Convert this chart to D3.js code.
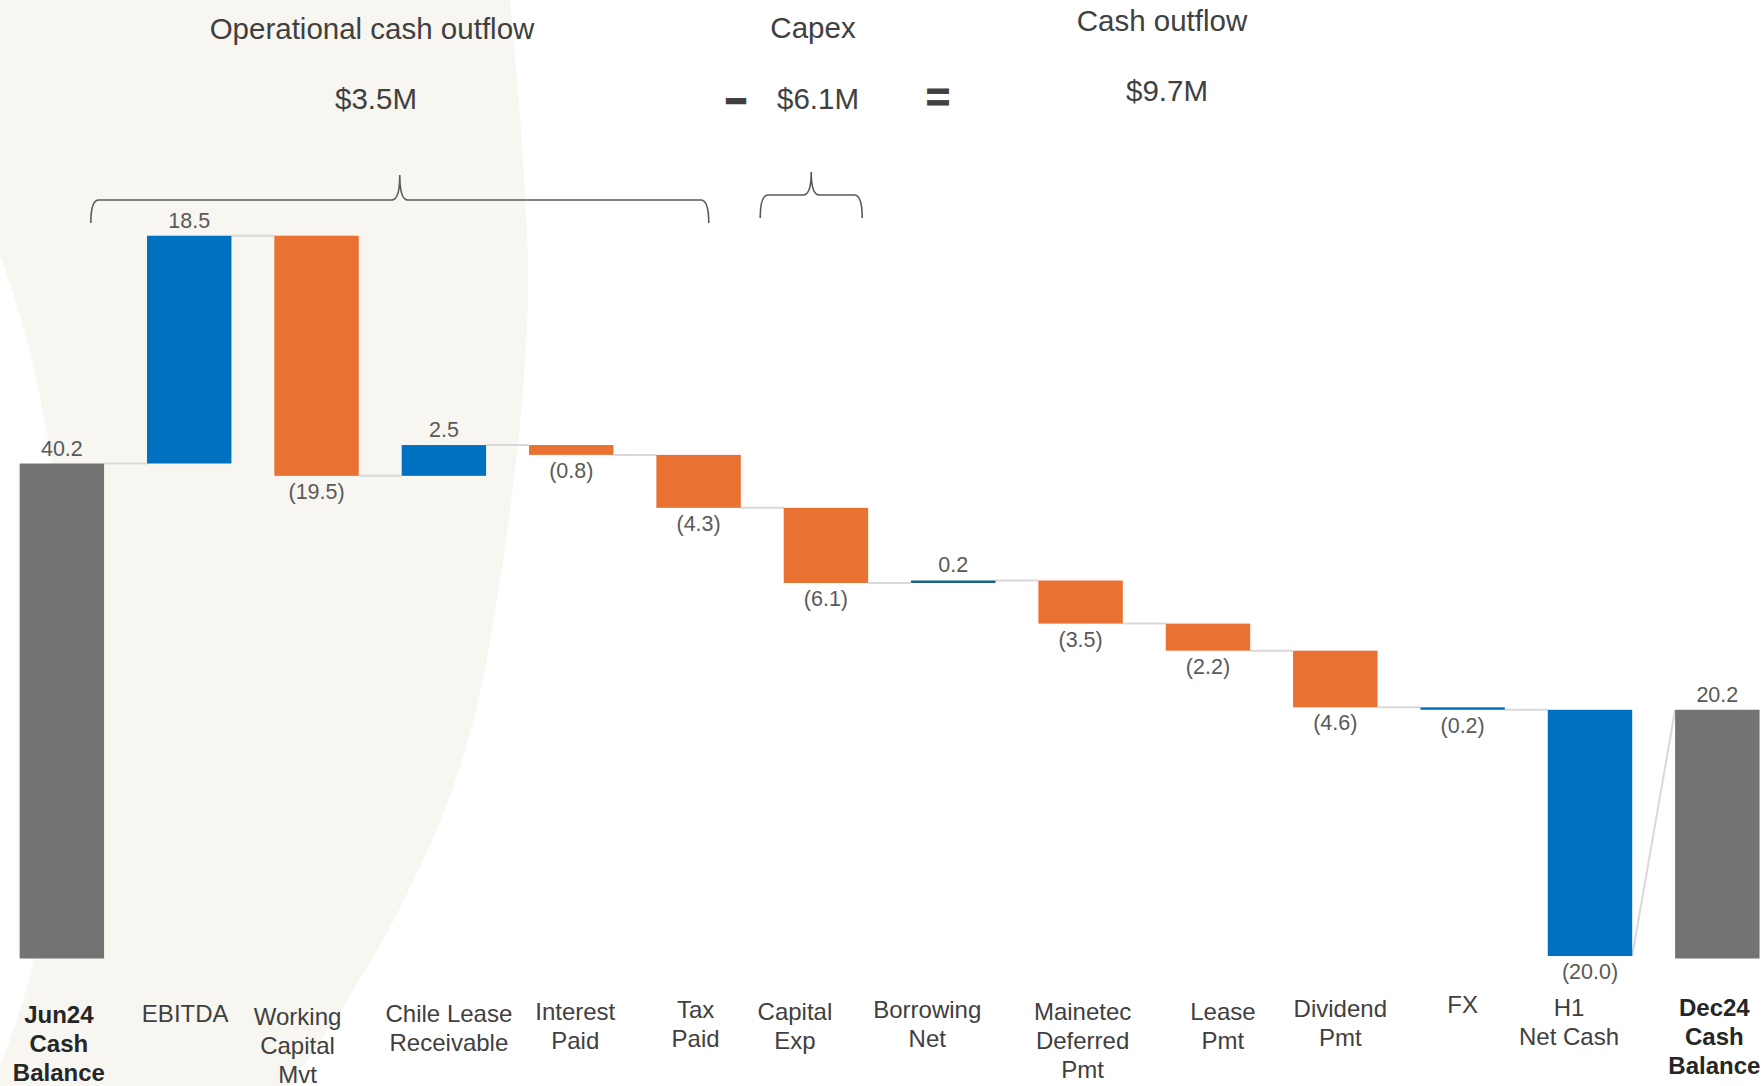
<!DOCTYPE html>
<html>
<head>
<meta charset="utf-8">
<script src="https://cdn.jsdelivr.net/npm/d3@7"></script>
<style>
  html, body { margin: 0; padding: 0; background: #ffffff; }
  svg { display: block; font-family: "Liberation Sans", Arial, sans-serif; }
</style>
</head>
<body>
<svg id="chart" width="1764" height="1086"></svg>
<script>
// ---- Data -------------------------------------------------------------
const categories = [
  "Jun24 Cash Balance", "EBITDA", "Working Capital Mvt", "Chile Lease Receivable",
  "Interest Paid", "Tax Paid", "Capital Exp", "Borrowing Net",
  "Mainetec Deferred Pmt", "Lease Pmt", "Dividend Pmt", "FX",
  "H1 Net Cash", "Dec24 Cash Balance"
];
const categoryLines = [
  ["Jun24", "Cash", "Balance"], ["EBITDA"], ["Working", "Capital", "Mvt"], ["Chile Lease", "Receivable"],
  ["Interest", "Paid"], ["Tax", "Paid"], ["Capital", "Exp"], ["Borrowing", "Net"],
  ["Mainetec", "Deferred", "Pmt"], ["Lease", "Pmt"], ["Dividend", "Pmt"], ["FX"],
  ["H1", "Net Cash"], ["Dec24", "Cash", "Balance"]
];
const values = [40.2, 18.5, -19.5, 2.5, -0.8, -4.3, -6.1, 0.2, -3.5, -2.2, -4.6, -0.2, -20.0, 20.2];
const barTypes = ["total", "step", "step", "step", "step", "step", "step", "step",
                  "step", "step", "step", "step", "net", "total"];

const summaryTitles = ["Operational cash outflow", "Capex", "Cash outflow"];
const summaryAmounts = ["$3.5M", "$6.1M", "$9.7M"];
const summaryOperators = ["–", "="];

// ---- Styling / layout -------------------------------------------------
const COLORS = { total: "#737373", up: "#0070C0", down: "#E97132" };
const colorOverride = { "Borrowing Net": "#156082", "FX": "#0070C0", "H1 Net Cash": "#0070C0" };
const textDark = "#404040";
const labelGray = "#595959";
// hand-placed text box offsets for the category labels (px)
const labelNudgeX = [-3, -4, -19, 5, 4, -3, -31, -26, 2, 15, 5, 0, -21, -3];
const labelNudgeY = [4, 3, 6, 3, 1, -1, 1, -1, 1, 1, -2, -6, -3, -3];

const W = 1764, H = 1086;
const svg = d3.select("#chart");

// ---- Background decoration --------------------------------------------
const bg = svg.append("g");
const beigeEdge = [[510, 0], [528, 298], [497, 600], [460, 767], [387, 933], [290, 1086]];
const edgePath = d3.line().curve(d3.curveCatmullRom.alpha(0.5))(beigeEdge);
bg.append("path")
  .attr("d", "M0,0 L" + edgePath.slice(1) + " L0,1086 Z")
  .attr("fill", "#F7F6F1");
bg.append("path")
  .attr("d", "M0,255 C90,500 90,850 0,1065 Z")
  .attr("fill", "#ffffff");

// ---- Scales -----------------------------------------------------------
const x = d3.scaleBand()
  .domain(categories)
  .range([-1.8, 1781])
  .paddingInner(0.337)
  .paddingOuter(0.337 / 2);
const y = d3.scaleLinear().domain([0, 60]).range([958.5, 958.5 - 60 * 12.313]);

// ---- Waterfall geometry -------------------------------------------------
let running = 0;
const bars = categories.map((c, i) => {
  const v = values[i], t = barTypes[i];
  let start, end;
  if (t === "total") { start = 0; end = v; running = v; }
  else if (t === "step") { start = running; end = running + v; running = end; }
  else { start = running; end = running + v; }
  let color;
  if (colorOverride[c]) color = colorOverride[c];
  else if (t === "total") color = COLORS.total;
  else color = v >= 0 ? COLORS.up : COLORS.down;
  return { c, v, t, start, end, color, lines: categoryLines[i], i };
});

// connectors between consecutive bars
const conn = svg.append("g");
for (let i = 0; i < bars.length - 1; i++) {
  const a = bars[i], b = bars[i + 1];
  const toLevel = b.t === "total" ? b.end : b.start;
  conn.append("line")
    .attr("x1", x(a.c) + x.bandwidth()).attr("y1", y(a.end))
    .attr("x2", x(b.c)).attr("y2", y(toLevel))
    .attr("stroke", "#D9D9D9").attr("stroke-width", 2);
}

// bars
svg.append("g").selectAll("rect").data(bars).join("rect")
  .attr("x", d => x(d.c))
  .attr("width", x.bandwidth())
  .attr("y", d => y(Math.max(d.start, d.end)))
  .attr("height", d => Math.max(1.5, Math.abs(y(d.start) - y(d.end))))
  .attr("fill", d => d.color);

// value labels
const fmt = v => v < 0 ? "(" + Math.abs(v).toFixed(1) + ")" : v.toFixed(1);
svg.append("g").selectAll("text").data(bars).join("text")
  .attr("x", d => x(d.c) + x.bandwidth() / 2)
  .attr("y", d => d.v >= 0 ? y(Math.max(d.start, d.end)) - 8 : y(Math.min(d.start, d.end)) + 23)
  .attr("text-anchor", "middle")
  .attr("font-size", 21.5)
  .attr("fill", labelGray)
  .text(d => fmt(d.v));

// category labels
const catG = svg.append("g");
bars.forEach(d => {
  const bold = d.t === "total";
  const lx = x(d.c) + x.bandwidth() / 2 + labelNudgeX[d.i];
  const t = catG.append("text")
    .attr("x", lx)
    .attr("y", 1019 + labelNudgeY[d.i])
    .attr("text-anchor", "middle")
    .attr("font-size", 24)
    .attr("font-weight", bold ? "bold" : "normal")
    .attr("fill", bold ? "#262626" : textDark);
  d.lines.forEach((ln, j) => {
    t.append("tspan").attr("x", lx).attr("dy", j === 0 ? 0 : 28.8).text(ln);
  });
});

// ---- Braces and summary ------------------------------------------------
function brace(x0, x1, xc, yb, yh, yp) {
  const r = 8;
  return `M${x0},${yb} Q${x0},${yh} ${x0 + r},${yh} L${xc - r},${yh} Q${xc},${yh} ${xc},${yp}` +
         ` Q${xc},${yh} ${xc + r},${yh} L${x1 - r},${yh} Q${x1},${yh} ${x1},${yb}`;
}
const step = x.step();
const cx = c => x(c) + x.bandwidth() / 2;
const opL = cx("EBITDA") - 0.773 * step, opR = cx("Tax Paid") + 0.08 * step;
const cpL = cx("Capital Exp") - 0.516 * step, cpR = cx("Capital Exp") + 0.285 * step;
const braces = svg.append("g").attr("fill", "none").attr("stroke", "#595959").attr("stroke-width", 1.6);
braces.append("path").attr("d", brace(opL, opR, (opL + opR) / 2, 223, 200, 175));
braces.append("path").attr("d", brace(cpL, cpR, (cpL + cpR) / 2, 218, 195, 172));

const summ = svg.append("g").attr("text-anchor", "middle").attr("fill", textDark).attr("font-size", 29.5);
const titlePos = [[372, 39], [813, 38], [1162, 31]];
const amountPos = [[376, 109], [818, 109], [1167, 101]];
summaryTitles.forEach((s, i) => summ.append("text").attr("x", titlePos[i][0]).attr("y", titlePos[i][1]).text(s));
summaryAmounts.forEach((s, i) => summ.append("text").attr("x", amountPos[i][0]).attr("y", amountPos[i][1]).text(s));
summ.append("text").attr("x", 736).attr("y", 111).attr("font-size", 36).attr("font-weight", "bold")
  .attr("stroke", textDark).attr("stroke-width", 2.5).text(summaryOperators[0]);
summ.append("text").attr("x", 938).attr("y", 112).attr("font-size", 42).attr("font-weight", "bold")
  .attr("stroke", textDark).attr("stroke-width", 0.8).text(summaryOperators[1]);
</script>
</body>
</html>
